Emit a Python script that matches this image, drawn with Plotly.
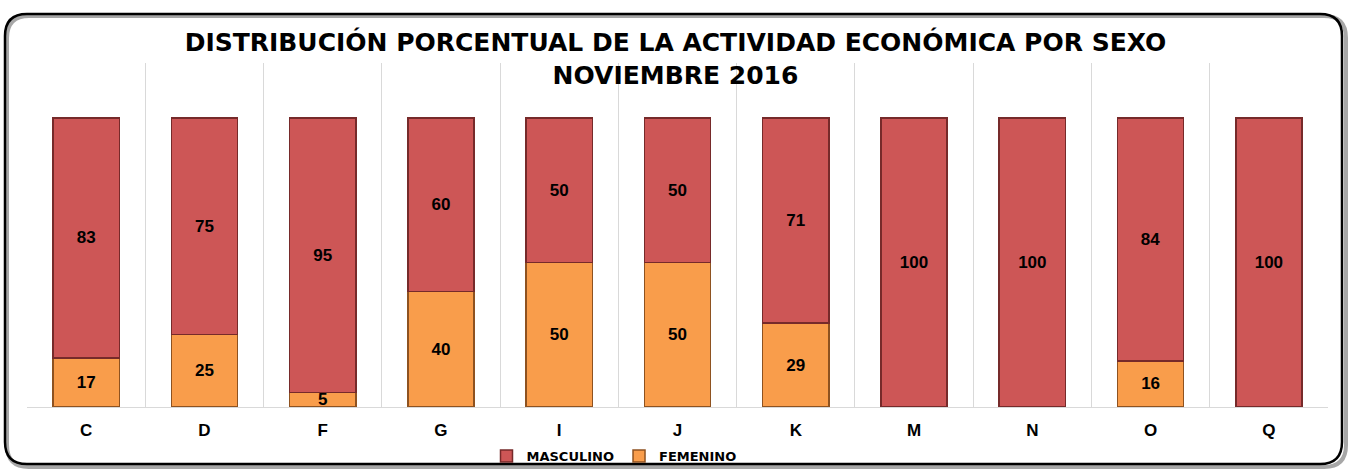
import plotly.graph_objects as go

categorias = ["C", "D", "F", "G", "I", "J", "K", "M", "N", "O", "Q"]
masculino = [83, 75, 95, 60, 50, 50, 71, 100, 100, 84, 100]
femenino = [17, 25, 5, 40, 50, 50, 29, 0, 0, 16, 0]

W, H = 1351, 469
L, R, T, B = 27, 23, 63, 62
PW, PH = W - L - R, H - T - B

def px(x):
    return (x - L) / PW

def py(y):
    return (H - B - y) / PH

def rounded_rect(x0, y0, x1, y1, r):
    def P(x, y):
        return f"{px(x):.5f},{py(y):.5f}"
    return (f"M {P(x0 + r, y0)} L {P(x1 - r, y0)} Q {P(x1, y0)} {P(x1, y0 + r)} "
            f"L {P(x1, y1 - r)} Q {P(x1, y1)} {P(x1 - r, y1)} "
            f"L {P(x0 + r, y1)} Q {P(x0, y1)} {P(x0, y1 - r)} "
            f"L {P(x0, y0 + r)} Q {P(x0, y0)} {P(x0 + r, y0)} Z")

label_font = dict(family="Liberation Sans", size=17, color="black", weight="bold")

fig = go.Figure()
fig.add_trace(go.Bar(
    x=categorias, y=femenino, name="FEMENINO",
    marker=dict(color="#F99D4B", line=dict(color="#8E5220", width=1.5)),
    text=[str(v) if v else "" for v in femenino],
    textposition="inside", insidetextanchor="middle", textangle=0,
    textfont=label_font, legendrank=2, width=0.56,
))
fig.add_trace(go.Bar(
    x=categorias, y=masculino, name="MASCULINO",
    marker=dict(color="#CD5656", line=dict(color="#762A2A", width=1.5)),
    text=[str(v) for v in masculino],
    textposition="inside", insidetextanchor="middle", textangle=0,
    textfont=label_font, legendrank=1, width=0.56,
))

shapes = [
    dict(type="path", xref="paper", yref="paper", layer="below",
         path=rounded_rect(7, 16, 1346, 467, 22),
         line=dict(color="rgba(80,80,80,0.5)", width=4)),
    dict(type="path", xref="paper", yref="paper", layer="above",
         path=rounded_rect(5, 14, 1342, 464, 22),
         line=dict(color="black", width=2.5)),
]

fig.update_layout(
    width=W, height=H,
    margin=dict(l=L, r=R, t=T, b=B, autoexpand=False),
    barmode="stack",
    paper_bgcolor="white", plot_bgcolor="rgba(0,0,0,0)",
    title=dict(
        text="DISTRIBUCIÓN PORCENTUAL DE LA ACTIVIDAD ECONÓMICA POR SEXO<br>NOVIEMBRE 2016",
        x=0.5, xanchor="center", xref="container", yref="container",
        y=1 - 51 / H, yanchor="middle",
        font=dict(family="DejaVu Sans", size=25, color="black", weight="bold"),
    ),
    xaxis=dict(
        showgrid=True, gridcolor="#D9D9D9", gridwidth=1, tickson="boundaries",
        ticks="", showline=True, linecolor="#D9D9D9", linewidth=1,
        tickfont=dict(family="Liberation Sans", size=17, color="black", weight="bold"),
        ticklabelstandoff=8, zeroline=False, automargin=False,
    ),
    yaxis=dict(range=[0, 119], visible=False, showgrid=False, zeroline=False, automargin=False),
    showlegend=True,
    legend=dict(orientation="h", traceorder="normal",
                xref="container", yref="container",
                x=614 / W, xanchor="center", y=1 - 456 / H, yanchor="middle",
                font=dict(family="DejaVu Sans", size=13, color="black", weight="bold"),
                bgcolor="rgba(0,0,0,0)"),
    uniformtext=dict(minsize=17, mode="show"),
    shapes=shapes,
)

fig.write_html("out.html", config={"displayModeBar": False},
               post_script="document.body.style.margin='0';document.body.style.overflow='hidden';")
